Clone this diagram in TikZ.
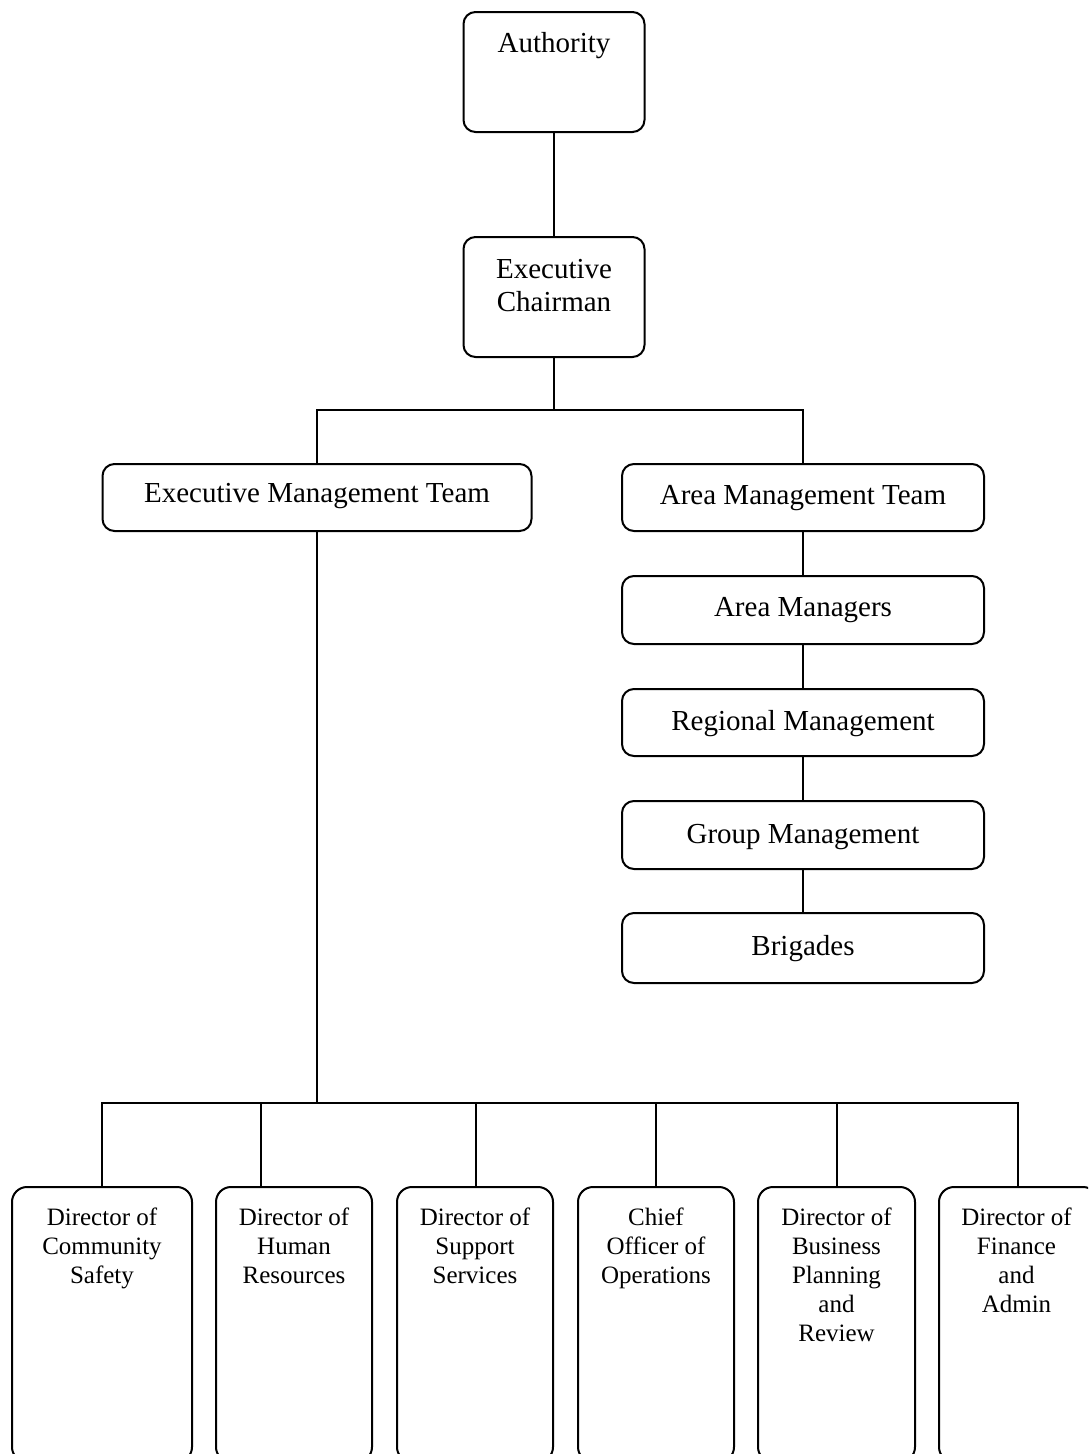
\documentclass[tikz,border=0pt]{standalone}
\usepackage{fontspec}
\setmainfont{Liberation Serif}
\begin{document}
\begin{tikzpicture}[x=1pt,y=-1pt,
  box/.style={draw, line width=2pt, rounded corners=12pt, inner sep=0pt},
  dbox/.style={draw, line width=2pt, rounded corners=15pt, inner sep=0pt, minimum height=275pt},
  lbl/.style={anchor=base, inner sep=0pt, font=\fontsize{29}{33}\selectfont},
  slbl/.style={anchor=base, inner sep=0pt, font=\fontsize{25}{29}\selectfont},
  conn/.style={line width=2pt}]
\useasboundingbox (0,0) rectangle (1088,1454);
\clip (0,0) rectangle (1088,1454);
\fill[white] (0,0) rectangle (1088,1454);
% top boxes
\node[box, minimum width=181pt, minimum height=120pt] (auth) at (554,72) {};
\node[lbl] (authL) at (554,52) {Authority};
\node[box, minimum width=181pt, minimum height=120pt] (chair) at (554,297) {};
\node[lbl] (chairL) at (554,278) {\begin{tabular}[t]{@{}c@{}}Executive\\Chairman\end{tabular}};
\node[box, minimum width=429pt, minimum height=67pt] (emt) at (317,497.5) {};
\node[lbl] (emtL) at (317,502) {Executive Management Team};
\node[box, minimum width=362pt, minimum height=67pt] (amt) at (803,497.5) {};
\node[lbl] (amtL) at (803,504) {Area Management Team};
\node[box, minimum width=362pt, minimum height=68pt] (am) at (803,610) {};
\node[lbl] (amL) at (803,616) {Area Managers};
\node[box, minimum width=362pt, minimum height=67pt] (rm) at (803,722.5) {};
\node[lbl] (rmL) at (803,730) {Regional Management};
\node[box, minimum width=362pt, minimum height=68pt] (gm) at (803,835) {};
\node[lbl] (gmL) at (803,843) {Group Management};
\node[box, minimum width=362pt, minimum height=70pt] (brig) at (803,948) {};
\node[lbl] (brigL) at (803,955) {Brigades};
% bottom boxes
\node[dbox, minimum width=180pt] (d1) at (102,1324.5) {};
\node[dbox, minimum width=156pt] (d2) at (294,1324.5) {};
\node[dbox, minimum width=156pt] (d3) at (475,1324.5) {};
\node[dbox, minimum width=156pt] (d4) at (656,1324.5) {};
\node[dbox, minimum width=157pt] (d5) at (836.5,1324.5) {};
\node[dbox, minimum width=159pt] (d6) at (1018.5,1324.5) {};
\node[slbl] (d1L) at (102,1225) {\begin{tabular}[t]{@{}c@{}}Director of\\Community\\Safety\end{tabular}};
\node[slbl] (d2L) at (294,1225) {\begin{tabular}[t]{@{}c@{}}Director of\\Human\\Resources\end{tabular}};
\node[slbl] (d3L) at (475,1225) {\begin{tabular}[t]{@{}c@{}}Director of\\Support\\Services\end{tabular}};
\node[slbl] (d4L) at (656,1225) {\begin{tabular}[t]{@{}c@{}}Chief\\Officer of\\Operations\end{tabular}};
\node[slbl] (d5L) at (836.5,1225) {\begin{tabular}[t]{@{}c@{}}Director of\\Business\\Planning\\and\\Review\end{tabular}};
\node[slbl] (d6L) at (1016.5,1225) {\begin{tabular}[t]{@{}c@{}}Director of\\Finance\\and\\Admin\end{tabular}};
% connectors
\coordinate (bus1) at (554,410);
\coordinate (bus2) at (317,1103);
\coordinate (t1) at (102,1187);
\coordinate (t2) at (261,1187);
\coordinate (t3) at (476,1187);
\coordinate (t4) at (656,1187);
\coordinate (t5) at (837,1187);
\coordinate (t6) at (1018,1187);
\draw[conn] (auth.south) -- (chair.north);
\draw[conn] (chair.south) -- (bus1);
\draw[conn] (emt.north) |- (bus1) -| (amt.north);
\draw[conn] (amt.south) -- (am.north);
\draw[conn] (am.south) -- (rm.north);
\draw[conn] (rm.south) -- (gm.north);
\draw[conn] (gm.south) -- (brig.north);
\draw[conn] (emt.south) -- (bus2);
\foreach \t in {t1,t2,t3,t4,t5,t6} { \draw[conn] (\t) |- (bus2); }
\end{tikzpicture}
\end{document}
